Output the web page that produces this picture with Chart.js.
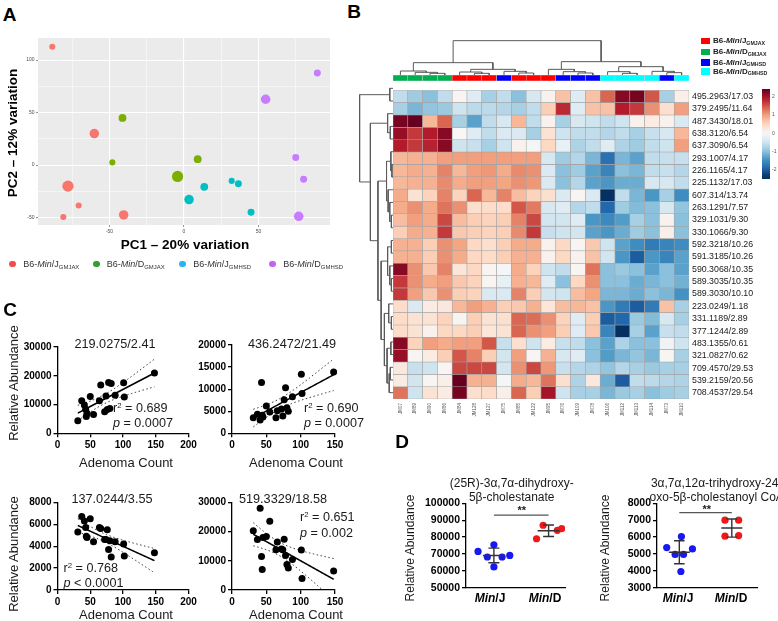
<!DOCTYPE html>
<html>
<head>
<meta charset="utf-8">
<script src="https://cdn.jsdelivr.net/npm/chart.js@4.4.1/dist/chart.umd.min.js"></script>
<style>
html,body{margin:0;padding:0;background:#fff;}
body{width:778px;height:621px;position:relative;overflow:hidden;font-family:"Liberation Sans",Arial,Helvetica,sans-serif;color:#1a1a1a;}
canvas{position:absolute;}
.tx{position:absolute;white-space:nowrap;line-height:1;}
.sup{font-size:0.62em;position:relative;top:-0.5em;}
.sub{font-size:0.66em;position:relative;top:0.32em;}
</style>
</head>
<body>
<script>
// ======================= DATA =======================
// Panel A : PCA scores and relative point weight (point size variable)
const pc1_JJAX = [-88.4, -60.2, -77.9, -70.7, -81.0, -40.5];
const pc2_JJAX = [112.7, 30.0, -20.0, -38.5, -49.4, -47.4];
const wt_JJAX  = [1, 3, 4, 1, 1, 3];
const pc1_DJAX = [-41.3, -48.1, -4.3, 9.2];
const pc2_DJAX = [44.9, 2.6, -10.8, 5.7];
const wt_DJAX  = [2, 1, 4, 2];
const pc1_JHSD = [3.4, 13.6, 32.0, 36.5, 45.0];
const pc2_JHSD = [-32.8, -20.7, -15.0, -17.8, -44.9];
const wt_JHSD  = [3, 2, 1, 1.5, 1.5];
const pc1_DHSD = [89.5, 54.8, 75.0, 80.3, 77.0];
const pc2_DHSD = [87.6, 62.7, 7.3, -13.4, -48.7];
const wt_DHSD  = [1.5, 3, 1.5, 1.5, 3];

// Panel B : heatmap
const colLabels = ['JM07','JM89','JM90','JM86','JM84','JM128','JM127','JM75','JM85','JM122','JM95','JM76','JM109','JM78','JM106','JM112','JM113','JM114','JM73','JM110'];
const colGroups = ['DJAX','DJAX','DJAX','DJAX','JJAX','JJAX','JJAX','JHSD','JJAX','JJAX','JJAX','JHSD','JHSD','JHSD','DHSD','DHSD','DHSD','DHSD','JHSD','DHSD'];
const rowLabels = ['495.2963/17.03','379.2495/11.64','487.3430/18.01','638.3120/6.54','637.3090/6.54','293.1007/4.17','226.1165/4.17','225.1132/17.03','607.314/13.74','263.1291/7.57','329.1031/9.30','330.1066/9.30','592.3218/10.26','591.3185/10.26','590.3068/10.35','589.3035/10.35','589.3030/10.10','223.0249/1.18','331.1189/2.89','377.1244/2.89','483.1355/0.61','321.0827/0.62','709.4570/29.53','539.2159/20.56','708.4537/29.54'];
const heat = [
 [-0.6,-0.85,-1.0,-0.6,0.05,-0.3,-0.8,-0.6,-1.0,-0.4,0.1,0.7,-0.3,0.7,1.4,2.2,2.3,1.5,-0.8,0.15],
 [-0.8,-1.1,-0.95,-0.9,-0.5,-0.65,-0.65,-0.7,-0.8,-0.6,0.6,1.8,-0.3,0.7,0.7,1.9,1.7,1.1,0.4,1.0],
 [2.3,2.7,0.8,1.4,-0.8,-1.3,-0.6,-0.4,0.8,-0.6,0.1,-0.8,-0.4,-0.5,-0.6,-0.5,0.1,0.2,0.1,-0.35],
 [2.1,1.7,1.9,2.2,0.0,-0.3,-0.6,-0.35,-0.35,-0.8,0.35,-0.5,-0.6,-0.6,-0.7,-0.6,-0.8,-0.55,-0.4,0.8],
 [1.9,1.7,1.85,2.2,-0.5,-0.55,-0.8,-0.5,0.1,-0.05,0.5,-0.2,-0.75,-0.6,-0.3,-0.75,-0.85,-0.6,-0.5,1.0],
 [0.8,0.85,0.85,1.0,1.0,1.0,1.0,1.0,1.0,1.0,-0.4,-0.85,-0.7,-1.1,-1.8,-1.1,-1.3,-0.6,-0.55,-0.55],
 [0.8,0.9,0.85,1.2,0.8,1.0,1.05,0.9,1.15,1.1,-0.35,-1.0,-0.85,-1.3,-1.6,-1.0,-1.1,-0.6,-0.55,-0.7],
 [0.8,0.85,0.85,1.15,0.9,1.0,1.0,0.95,1.1,1.05,-0.35,-1.0,-0.7,-1.3,-1.4,-1.2,-1.2,-0.4,-0.4,-0.6],
 [0.9,0.35,0.55,1.2,0.55,1.4,0.8,1.2,0.75,0.55,0.4,-0.35,0.05,-0.35,-2.4,-0.6,-1.1,-1.4,-0.8,-1.5],
 [0.9,1.1,0.9,1.3,1.1,0.4,0.45,0.45,1.5,1.25,-0.4,-0.3,-0.7,-0.6,-1.9,-0.85,-1.05,-1.0,-0.4,-0.95],
 [0.75,1.0,0.9,1.6,0.75,0.6,0.55,0.6,1.2,1.6,-0.45,-0.45,-0.3,-1.4,-1.55,-1.35,-0.8,-1.0,0.1,-1.0],
 [0.6,0.9,0.85,1.7,0.65,0.6,0.55,0.6,1.15,1.7,-0.55,-0.5,-0.45,-1.3,-1.4,-1.2,-0.85,-1.0,0.15,-1.0],
 [0.85,0.85,0.6,1.1,0.95,0.5,0.4,0.6,0.9,0.9,0.1,0.5,0.05,0.65,-0.5,-1.3,-1.5,-1.7,-1.6,-1.5],
 [0.85,0.85,0.6,1.1,0.9,0.5,0.45,0.6,0.85,0.85,0.1,0.5,0.1,0.7,-0.45,-1.4,-2.0,-1.4,-1.6,-1.3],
 [2.2,1.1,0.65,1.2,0.3,0.5,0.05,-0.05,0.9,0.55,-0.5,-0.6,0.05,1.3,-1.0,-0.9,-1.0,-1.3,-1.0,-1.3],
 [1.7,1.1,0.9,1.0,0.65,0.55,0.05,-0.2,0.85,0.8,-0.3,-1.0,0.5,1.1,-1.0,-1.0,-1.2,-1.1,-1.0,-1.15],
 [1.7,1.0,0.65,1.1,0.6,0.55,-0.35,-0.35,1.2,0.6,-0.45,-0.5,0.75,0.95,-1.1,-1.1,-1.2,-1.0,-1.1,-1.45],
 [0.45,-0.35,0.2,0.25,0.8,1.0,0.85,0.6,0.65,0.85,0.3,0.75,0.8,0.7,-1.4,-1.7,-2.0,-1.7,0.7,-0.8],
 [0.45,0.35,0.35,0.55,0.05,0.6,0.35,0.4,1.4,1.35,1.1,0.55,-0.3,0.6,-2.0,-1.9,-0.9,-1.05,-0.4,-0.8],
 [0.45,0.35,0.1,0.5,0.5,0.6,0.3,0.35,1.4,1.1,1.0,0.6,-0.3,0.65,-1.6,-2.8,-0.8,-1.3,-0.55,-0.6],
 [2.2,0.55,1.0,0.9,1.0,1.0,1.5,-0.55,0.4,-0.5,0.2,-0.55,-0.6,-1.0,-1.3,-0.75,-1.0,-1.0,-0.1,-0.5],
 [2.1,0.05,0.2,0.6,1.5,1.2,0.6,-0.45,1.0,0.05,0.85,-0.4,-0.3,-1.0,-1.35,-1.1,-0.95,-1.1,0.05,-0.8],
 [0.25,-0.55,-0.5,0.05,1.6,1.6,1.6,-0.45,1.1,1.6,1.05,-0.55,-0.7,-0.75,-0.95,-0.7,-0.8,-0.9,-0.8,-0.8],
 [0.2,-0.45,0.05,0.15,2.7,0.85,0.85,-0.05,0.9,0.8,1.3,0.4,-0.75,0.25,-1.2,-2.0,-0.6,-0.65,-0.7,-0.75],
 [1.3,-0.5,0.35,0.2,2.3,0.4,0.45,0.15,1.4,0.6,2.0,-0.5,-0.8,-0.8,-1.1,-0.9,-0.8,-1.0,-0.85,-0.8]
];
// hierarchical clustering merges (hclust style: -k = leaf k, +m = merge m, height)
const colMerges = [[-3,-4,5],[-2,1,8],[-1,2,12],[-6,-7,5],[-5,4,9],[-9,-10,6],[-8,6,11],[5,7,17],[3,8,37],
  [-13,-14,6],[-12,10,10],[-11,11,17],[-16,-17,5],[-15,13,10],[-19,-20,7],[-18,15,11],[14,16,25],[12,17,40],[9,18,103]];
const rowMerges = [[-1,-2,3],[-4,-5,2.5],[-3,2,5],[-7,-8,1],[-6,4,2],[-11,-12,1.5],[-10,6,3],[-9,7,4.5],[5,8,6],
  [-13,-14,1.5],[-16,-17,1.5],[-15,11,3],[10,12,5],[-19,-20,1.5],[-18,14,4],[-21,-22,2],[-23,-24,2.5],[17,-25,3.5],
  [16,18,5.5],[15,19,8],[13,20,11],[9,21,14],[3,22,21],[1,23,31]];

// Panel C : adenoma count vs relative abundance
const adenomaCount = [31, 37, 41, 43, 44, 45, 50, 55, 64, 66, 72, 74, 76, 78, 80, 82, 88, 101, 102, 148];
const abund_219 = [4400, 11300, 9800, 8400, 5800, 7000, 12800, 6500, 11300, 16800, 7500, 13000, 8300, 17700, 8600, 17300, 13200, 17600, 12600, 21000];
const abund_436 = [3500, 4300, 3000, 11500, 4100, 3700, 6200, 4800, 3500, 5100, 5500, 3900, 7600, 10300, 5800, 5000, 8300, 13400, 9000, 13900];
const abund_137 = [5300, 6700, 6300, 5700, 4900, 4800, 6500, 4400, 5700, 5600, 4600, 4600, 5500, 3700, 4500, 3000, 4400, 4200, 3100, 3400];
const abund_519 = [20300, 17300, 28000, 11500, 7000, 18000, 18300, 23500, 13800, 16400, 14000, 13800, 17400, 11800, 8700, 7500, 10400, 13700, 3900, 6500];

// Panel D : group values
const chol_MinJ = [71500, 75400, 69100, 68200, 68200, 62300];
const chol_MinD = [87000, 84000, 85000, 79000];
const coa_MinJ = [5380, 6030, 5300, 4970, 4970, 3960];
const coa_MinD = [7000, 7000, 6050, 6090];

// ======================= LAYOUT / STYLE =======================
const FONT = '"Liberation Sans", Arial, Helvetica, sans-serif';
Chart.defaults.font.family = FONT;
Chart.defaults.color = '#000';
Chart.defaults.animation = false;
Chart.defaults.responsive = false;
Chart.defaults.plugins.legend.display = false;
Chart.defaults.plugins.tooltip.enabled = false;

function canvasAt(l, t, w, h){
  const c = document.createElement('canvas');
  c.width = w; c.height = h;
  c.style.left = l + 'px'; c.style.top = t + 'px';
  c.style.width = w + 'px'; c.style.height = h + 'px';
  document.body.appendChild(c);
  return c;
}
function T(html, x, y, size, opt){
  opt = opt || {};
  const d = document.createElement('div');
  d.className = 'tx';
  d.innerHTML = html;
  d.style.fontSize = size + 'px';
  if (opt.bold) d.style.fontWeight = 'bold';
  d.style.color = opt.color || '#1a1a1a';
  const al = opt.align || 'c';
  const tx = al === 'c' ? '-50%' : (al === 'r' ? '-100%' : '0');
  let tr = 'translate(' + tx + ',-50%)';
  if (opt.rot) tr += ' rotate(' + opt.rot + 'deg)';
  d.style.left = x + 'px'; d.style.top = y + 'px';
  d.style.transform = tr;
  document.body.appendChild(d);
}
const fixW = w => (s => { s.width = w; });
const fixH = h => (s => { s.height = h; });

const RDBU = ['#053061','#2166ac','#4393c3','#92c5de','#d1e5f0','#f7f7f7','#fddbc7','#f4a582','#d6604d','#b2182b','#67001f'];
function hex2rgb(h){ return [parseInt(h.slice(1,3),16), parseInt(h.slice(3,5),16), parseInt(h.slice(5,7),16)]; }
function colorFor(v){
  const lim = 2.4;
  const t = (Math.max(-lim, Math.min(lim, v)) + lim) / (2*lim) * 10;
  const i = Math.min(9, Math.floor(t)), f = t - i;
  const a = hex2rgb(RDBU[i]), b = hex2rgb(RDBU[i+1]);
  return 'rgb(' + a.map((x,k) => Math.round(x + (b[k]-x)*f)).join(',') + ')';
}

// ======================= PANEL A =======================
T('A', 9.5, 13.5, 19, {bold:true, color:'#000'});
(function(){
  const L=0, Tp=30, W=338, H=226, area={l:38,t:38,r:330,b:225};
  const cols = ['#F8766D','#7CAE00','#00BFC4','#C77CFF'];
  const groups = [[pc1_JJAX,pc2_JJAX,wt_JJAX],[pc1_DJAX,pc2_DJAX,wt_DJAX],[pc1_JHSD,pc2_JHSD,wt_JHSD],[pc1_DHSD,pc2_DHSD,wt_DHSD]];
  const major = c => c.tick && Math.abs(c.tick.value % 50) < 1e-6;
  const axisCommon = {
    type:'linear',
    ticks:{stepSize:25, includeBounds:false, autoSkip:false, maxRotation:0, font:{size:5}, color:'#4d4d4d', padding:1.5,
      callback: v => (Math.abs(v % 50) < 1e-6 ? v : '')},
    grid:{color:'#ffffff', lineWidth: c => major(c) ? 1.1 : 0.5,
      tickColor: c => major(c) ? '#444' : 'rgba(0,0,0,0)', tickLength:2, tickWidth:0.6},
    border:{display:false}
  };
  new Chart(canvasAt(L,Tp,W,H), {
    type:'bubble',
    data:{datasets: groups.map((g,i) => ({
      data: g[0].map((x,j) => ({x:x, y:g[1][j], r: 2.2 + 0.85*g[2][j]})),
      backgroundColor: cols[i], borderWidth:0 }))},
    options:{
      devicePixelRatio:1,
      layout:{padding:{top:area.t-Tp, right:L+W-area.r, left:0, bottom:0}},
      scales:{
        x: Object.assign({}, axisCommon, {min:-98, max:98, afterFit: fixH(Tp+H-area.b)}),
        y: Object.assign({}, axisCommon, {min:-57, max:121, afterFit: fixW(area.l-L)})
      }
    },
    plugins:[{id:'bg', beforeDraw(ch){ const a=ch.chartArea, c=ch.ctx; c.save(); c.fillStyle='#EBEBEB'; c.fillRect(a.left,a.top,a.right-a.left,a.bottom-a.top); c.restore(); }}]
  });
  T('PC1 – 20% variation', 185, 245, 13.5, {bold:true, color:'#000'});
  T('PC2 – 12% variation', 13, 133, 13.5, {bold:true, color:'#000', rot:-90});
  const legCols = ['#F24B4B','#2E9E2E','#2AB4EE','#C163F0'];
  const legNames = ['B6-<i>Min</i>/J<span class="sub">GMJAX</span>','B6-<i>Min</i>/D<span class="sub">GMJAX</span>','B6-<i>Min</i>/J<span class="sub">GMHSD</span>','B6-<i>Min</i>/D<span class="sub">GMHSD</span>'];
  const dotX = [12.7, 96.7, 182.7, 272.7], txtX = [23.3, 106.7, 193.3, 283.3];
  legNames.forEach((n,i) => {
    const d = document.createElement('div');
    d.style.cssText = 'position:absolute;width:6.5px;height:6.5px;border-radius:50%;left:'+(dotX[i]-3.25)+'px;top:'+(264-3.25)+'px;background:'+legCols[i];
    document.body.appendChild(d);
    T(n, txtX[i], 264, 9, {align:'l', color:'#333'});
  });
})();

// ======================= PANEL C =======================
T('C', 10, 309, 19, {bold:true, color:'#000'});
function regChart(L, Tp, W, H, area, ys, xMax, yMax, yStep){
  const xs = adenomaCount, n = xs.length;
  const mx = xs.reduce((s,v)=>s+v,0)/n, my = ys.reduce((s,v)=>s+v,0)/n;
  let sxx = 0, sxy = 0;
  xs.forEach((x,i) => { sxx += (x-mx)*(x-mx); sxy += (x-mx)*(ys[i]-my); });
  const b = sxy/sxx, a = my - b*mx;
  let sse = 0; xs.forEach((x,i) => { const r = ys[i] - (a + b*x); sse += r*r; });
  const s = Math.sqrt(sse/(n-2)), tq = 2.101;
  const x0 = Math.min(...xs), x1 = Math.max(...xs);
  const fit = [], up = [], lo = [];
  for (let k = 0; k <= 40; k++){
    const x = x0 + (x1-x0)*k/40, yh = a + b*x, se = s*Math.sqrt(1/n + (x-mx)*(x-mx)/sxx);
    fit.push({x, y:yh}); up.push({x, y:yh + tq*se}); lo.push({x, y:yh - tq*se});
  }
  const axis = (min, max, step, extra) => Object.assign({
    type:'linear', min, max,
    ticks:{stepSize:step, autoSkip:false, maxRotation:0, font:{size:10, weight:'bold'}, color:'#000', padding:2, callback:v=>v},
    grid:{display:true, drawOnChartArea:false, drawTicks:true, tickLength:4, color:'#000', lineWidth:1.3},
    border:{display:true, color:'#000', width:1.3}
  }, extra);
  new Chart(canvasAt(L,Tp,W,H), {
    type:'scatter',
    data:{datasets:[
      {data: xs.map((x,i)=>({x, y:ys[i]})), pointRadius:3.5, pointBackgroundColor:'#000', pointBorderWidth:0, clip:false},
      {data: fit, showLine:true, pointRadius:0, borderColor:'#000', borderWidth:1.5},
      {data: up, showLine:true, pointRadius:0, borderColor:'#333', borderWidth:1, borderDash:[1.5,2.5]},
      {data: lo, showLine:true, pointRadius:0, borderColor:'#333', borderWidth:1, borderDash:[1.5,2.5]}
    ]},
    options:{devicePixelRatio:1,
      layout:{padding:{top:area.t-Tp, right:L+W-area.r, left:0, bottom:0}},
      scales:{
        x: axis(0, xMax, 50, {afterFit: fixH(Tp+H-area.b)}),
        y: axis(0, yMax, yStep, {afterFit: fixW(area.l-L)})
      }}
  });
}
regChart(0, 337, 201, 140, {l:57.5, t:347, r:188.5, b:433.3}, abund_219, 200, 30000, 10000);
regChart(175, 337, 172, 140, {l:232, t:344.3, r:335, b:433.3}, abund_436, 150, 20000, 5000);
regChart(0, 492, 201, 129, {l:57.5, t:502.3, r:188.5, b:590}, abund_137, 200, 8000, 2000);
regChart(175, 492, 172, 129, {l:232, t:502.3, r:335, b:590}, abund_519, 150, 30000, 10000);

T('219.0275/2.41', 115, 343.5, 12.7);
T('436.2472/21.49', 292, 343.5, 12.7);
T('137.0244/3.55', 112, 499, 12.7);
T('519.3329/18.58', 283, 499, 12.7);
T('r<span class="sup">2</span> = 0.689', 113, 407.7, 12.6, {align:'l'});
T('<i>p</i> = 0.0007', 113, 423, 12.6, {align:'l'});
T('r<span class="sup">2</span> = 0.690', 304, 407.7, 12.6, {align:'l'});
T('<i>p</i> = 0.0007', 304, 423, 12.6, {align:'l'});
T('r<span class="sup">2</span> = 0.768', 63.5, 568.3, 12.6, {align:'l'});
T('<i>p</i> &lt; 0.0001', 63.5, 583.3, 12.6, {align:'l'});
T('r<span class="sup">2</span> = 0.651', 300, 517.3, 12.6, {align:'l'});
T('<i>p</i> = 0.002', 300, 532.7, 12.6, {align:'l'});
T('Adenoma Count', 126, 462, 13);
T('Adenoma Count', 296, 462, 13);
T('Adenoma Count', 126, 614, 13);
T('Adenoma Count', 296, 614, 13);
T('Relative Abundance', 13, 383, 13, {rot:-90});
T('Relative Abundance', 13, 554, 13, {rot:-90});

// ======================= PANEL B =======================
T('B', 354, 11, 19, {bold:true, color:'#000'});
const grpColor = {JJAX:'#ff0000', DJAX:'#00b050', JHSD:'#0000ff', DHSD:'#00ffff'};
const HM = {l:393, t:82, w:296, h:317};
// heatmap
new Chart(canvasAt(HM.l, HM.t, 385, HM.h+23), {
  type:'bar',
  data:{labels: colLabels, datasets: heat.map(row => ({
    data: row.map(() => 1),
    backgroundColor: row.map(colorFor),
    borderColor:'#a3a3a3', borderWidth:0.6, borderSkipped:false,
    barPercentage:1, categoryPercentage:1 }))},
  options:{
    devicePixelRatio:1,
    layout:{padding:0},
    scales:{
      x:{stacked:true, offset:true, grid:{display:false, drawTicks:false}, border:{display:false},
         ticks:{font:{size:4.5}, color:'#555', minRotation:90, maxRotation:90, autoSkip:false, padding:4},
         afterFit: fixH(23)},
      y:{stacked:true, display:false, min:0, max:25, reverse:true},
      y2:{type:'category', position:'right', labels: rowLabels, offset:true, bounds:'ticks',
          grid:{display:false, drawTicks:false}, border:{display:false},
          ticks:{font:{size:8.8}, color:'#1a1a1a', padding:3, autoSkip:false},
          afterFit: fixW(385-HM.w)}
    }
  }
});
// column annotation
new Chart(canvasAt(HM.l, 75, HM.w, 6), {
  type:'bar',
  data:{labels: colLabels, datasets:[{data: colGroups.map(() => 1), backgroundColor: colGroups.map(g => grpColor[g]),
        borderColor:'#cfcfcf', borderWidth:0.5, borderSkipped:false, barPercentage:1, categoryPercentage:1}]},
  options:{devicePixelRatio:1, layout:{padding:0}, scales:{x:{display:false}, y:{display:false, min:0, max:1}}}
});
// dendrograms
function dendroLinks(merges){
  const pos = [], hgt = [], links = [];
  const P = k => k < 0 ? -k - 1 : pos[k-1];
  const Hh = k => k < 0 ? 0 : hgt[k-1];
  merges.forEach(([a,b,h]) => {
    const xa = P(a), xb = P(b);
    links.push([[xa,Hh(a)],[xa,h],[xb,h],[xb,Hh(b)]]);
    pos.push((xa+xb)/2); hgt.push(h);
  });
  return links;
}
new Chart(canvasAt(HM.l, 40, HM.w, 35), {
  type:'scatter',
  data:{datasets: dendroLinks(colMerges).map(lk => ({data: lk.map(p => ({x:p[0], y:p[1]})), showLine:true, pointRadius:0, borderColor:'#5a5a5a', borderWidth:1, tension:0}))},
  options:{devicePixelRatio:1, layout:{padding:0}, scales:{x:{display:false, min:-0.5, max:19.5}, y:{display:false, min:0, max:105}}}
});
new Chart(canvasAt(358, HM.t, 35, HM.h), {
  type:'scatter',
  data:{datasets: dendroLinks(rowMerges).map(lk => ({data: lk.map(p => ({x:p[1], y:p[0]})), showLine:true, pointRadius:0, borderColor:'#5a5a5a', borderWidth:1, tension:0}))},
  options:{devicePixelRatio:1, layout:{padding:0}, scales:{x:{display:false, min:0, max:32.5, reverse:true}, y:{display:false, min:-0.5, max:24.5, reverse:true}}}
});
// color bar
new Chart(canvasAt(762, 84, 16, 100), {
  type:'bar',
  data:{labels:[''], datasets:[{data:[[-2.5, 2.43]], borderWidth:0, barPercentage:1, categoryPercentage:1,
    backgroundColor: ctx => {
      const ch = ctx.chart; if (!ch.chartArea) return '#ccc';
      const ys = ch.scales.y;
      const g = ch.ctx.createLinearGradient(0, ys.getPixelForValue(-2.5), 0, ys.getPixelForValue(2.43));
      for (let k = 0; k <= 24; k++){ const v = -2.5 + (4.93)*k/24; g.addColorStop(k/24, colorFor(v)); }
      return g;
    }}]},
  options:{devicePixelRatio:1, layout:{padding:{top:2, bottom:3, left:0, right:0}},
    scales:{x:{display:false},
      y:{position:'right', min:-2.5, max:2.43, ticks:{stepSize:1, includeBounds:false, font:{size:5}, color:'#555', padding:2, callback:v=>v},
         grid:{display:false, drawTicks:false}, border:{display:false}, afterFit: fixW(8)}}}
});
// legend B
(function(){
  const ks = ['JJAX','DJAX','JHSD','DHSD'];
  const names = ['B6-<i>Min</i>/J<span class="sub">GMJAX</span>','B6-<i>Min</i>/D<span class="sub">GMJAX</span>','B6-<i>Min</i>/J<span class="sub">GMHSD</span>','B6-<i>Min</i>/D<span class="sub">GMHSD</span>'];
  const ys = [41, 52, 62.5, 71.5];
  ks.forEach((k,i) => {
    const d = document.createElement('div');
    d.style.cssText = 'position:absolute;left:700.5px;width:9.5px;height:6.8px;top:'+(ys[i]-3.4)+'px;background:'+grpColor[k];
    document.body.appendChild(d);
    T(names[i], 713, ys[i], 8, {align:'l', bold:true, color:'#222'});
  });
})();

// ======================= PANEL D =======================
T('D', 402, 441, 19, {bold:true, color:'#000'});
const jit_cholJ = [-0.29, 0.0, 0.29, -0.12, 0.15, 0.0];
const jit_cholD = [-0.1, 0.16, 0.24, -0.22];
const jit_coaJ = [-0.24, 0.04, 0.25, -0.08, 0.08, 0.03];
const jit_coaD = [-0.13, 0.13, -0.13, 0.13];
function dotChart(L, Tp, W, H, area, xr, yr, step, gJ, gD, jJ, jD, sigY){
  const ds = [];
  const stats = arr => { const m = arr.reduce((s,v)=>s+v,0)/arr.length;
    const sd = Math.sqrt(arr.reduce((s,v)=>s+(v-m)*(v-m),0)/(arr.length-1)); return [m, sd]; };
  const line = (pts, col, w) => ds.push({data:pts, showLine:true, pointRadius:0, borderColor:col, borderWidth:w});
  [[gJ, jJ, 1, '#1818f0'], [gD, jD, 2, '#f01818']].forEach(([vals, jit, cx, col]) => {
    const [m, sd] = stats(vals);
    line([{x:cx-0.2,y:m},{x:cx+0.2,y:m}], '#333', 1.4);
    line([{x:cx,y:m-sd},{x:cx,y:m+sd}], '#333', 1.4);
    line([{x:cx-0.1,y:m+sd},{x:cx+0.1,y:m+sd}], '#333', 1.4);
    line([{x:cx-0.1,y:m-sd},{x:cx+0.1,y:m-sd}], '#333', 1.4);
    ds.push({data: vals.map((v,i) => ({x: cx + jit[i], y: v})), pointRadius:3.6, pointBackgroundColor:col, pointBorderWidth:0});
  });
  line([{x:1,y:sigY},{x:2,y:sigY}], '#555', 1.2);
  new Chart(canvasAt(L,Tp,W,H), {
    type:'scatter',
    data:{datasets: ds},
    options:{devicePixelRatio:1,
      layout:{padding:{top:area.t-Tp, right:L+W-area.r, left:0, bottom:0}},
      scales:{
        x:{type:'linear', min:xr[0], max:xr[1], ticks:{display:false}, grid:{display:false},
           border:{display:true, color:'#000', width:1.3}, afterFit: fixH(Tp+H-area.b)},
        y:{type:'linear', min:yr[0], max:yr[1],
           ticks:{stepSize:step, font:{size:10.5, weight:'bold'}, color:'#000', padding:2, callback:v=>v},
           grid:{display:true, drawOnChartArea:false, tickLength:4, color:'#000', lineWidth:1.3},
           border:{display:true, color:'#000', width:1.3}, afterFit: fixW(area.l-L)}
      }}
  });
}
dotChart(400, 495, 175, 126, {l:466, t:502.3, r:565, b:587.7}, [0.49, 2.3], [50000, 100000], 10000, chol_MinJ, chol_MinD, jit_cholJ, jit_cholD, 93000);
dotChart(590, 495, 188, 126, {l:657, t:502.3, r:757, b:587.7}, [0.575, 2.48], [3000, 8000], 1000, coa_MinJ, coa_MinD, jit_coaJ, jit_coaD, 7450);

T('(25R)-3α,7α-dihydroxy-', 511.7, 483, 12);
T('5β-cholestanate', 511.7, 496.7, 12);
T('3α,7α,12α-trihydroxy-24-', 716.7, 483, 12);
T('oxo-5β-cholestanoyl CoA', 716.7, 496.7, 12);
T('**', 521.7, 510, 11, {bold:true, color:'#222'});
T('**', 706.7, 508.5, 11, {bold:true, color:'#222'});
T('Relative Abundance', 410, 547.5, 12, {rot:-90});
T('Relative Abundance', 605, 547.5, 12, {rot:-90});
T('<i>Min</i>/J', 490, 598, 12, {bold:true, color:'#000'});
T('<i>Min</i>/D', 545, 598, 12, {bold:true, color:'#000'});
T('<i>Min</i>/J', 678, 598, 12, {bold:true, color:'#000'});
T('<i>Min</i>/D', 731, 598, 12, {bold:true, color:'#000'});
</script>
</body>
</html>
